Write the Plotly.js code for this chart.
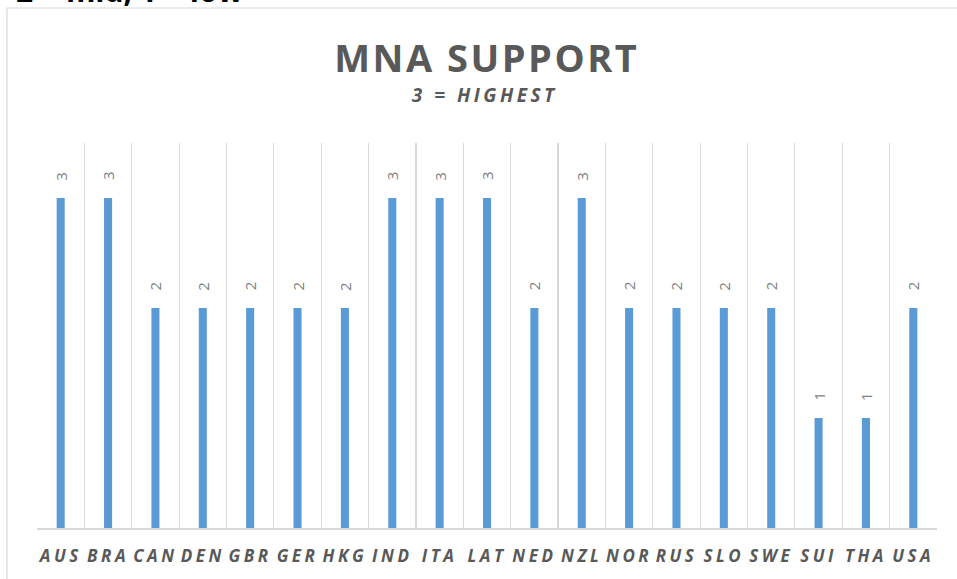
<!DOCTYPE html>
<html>
<head>
<meta charset="utf-8">
<script src="https://cdn.plot.ly/plotly-3.0.1.min.js"></script>
<style>
  html, body { margin: 0; padding: 0; background: #fff; }
  #chart { width: 957px; height: 579px; }
  .xtick text { letter-spacing: 3.5px; }
  .annotation[data-index="0"] text { letter-spacing: 2.5px; }
  .annotation[data-index="1"] text { letter-spacing: 3.5px; }
</style>
</head>
<body>
<div id="chart"></div>
<script>
const countries = ["AUS","BRA","CAN","DEN","GBR","GER","HKG","IND","ITA","LAT","NED","NZL","NOR","RUS","SLO","SWE","SUI","THA","USA"];
const support = [3,3,2,2,2,2,2,3,3,3,2,3,2,2,2,2,1,1,2];
const chartTitle = "MNA SUPPORT";
const chartSubtitle = "3 = HIGHEST";
const topNote = "2 = mid, 1 = low";

const W = 957, H = 579;
const L = 37, R = 20, T = 143, B = 51;
const pw = W - L - R, ph = H - T - B;
const px = x => (x - L) / pw;
const py = y => (H - B - y) / ph;

const labelAnns = countries.map((c, i) => ({
  x: c, y: support[i], xref: 'x', yref: 'y',
  text: String(support[i]), showarrow: false, textangle: -90,
  yshift: 22, font: {family: 'Open Sans, sans-serif', size: 15, color: '#7f7f7f'}
}));

const data = [{
  type: 'bar', x: countries, y: support,
  marker: {color: '#5b9bd5'}, width: 0.17,
  hoverinfo: 'x+y'
}];

const layout = {
  width: W, height: H,
  margin: {l: L, r: R, t: T, b: B, pad: 0},
  paper_bgcolor: '#ffffff', plot_bgcolor: '#ffffff',
  showlegend: false,
  xaxis: {
    type: 'category', tickson: 'boundaries', showgrid: true,
    gridcolor: '#d9d9d9', gridwidth: 1.2, ticks: '', ticklen: 0,
    showline: true, linecolor: '#d9d9d9', linewidth: 2,
    ticklabelstandoff: 12,
    tickfont: {family: 'Open Sans, sans-serif', size: 17, color: '#595959', weight: 'bold', style: 'italic'},
    automargin: false, fixedrange: true, range: [-0.5, 18.5]
  },
  yaxis: {
    range: [0, 3.5], showgrid: false, zeroline: false, showticklabels: false,
    ticks: '', showline: false, fixedrange: true, automargin: false
  },
  shapes: [
    {type: 'rect', xref: 'paper', yref: 'paper', x0: px(7), x1: px(965), y0: py(590), y1: py(8),
     line: {color: '#d9d9d9', width: 1.2}, fillcolor: 'rgba(0,0,0,0)', layer: 'below'}
  ],
  annotations: [
    {xref: 'paper', yref: 'paper', x: px(487), y: py(57), xanchor: 'center', yanchor: 'middle',
     text: chartTitle, showarrow: false,
     font: {family: 'Open Sans, sans-serif', size: 38, color: '#595959', weight: 'bold'}},
    {xref: 'paper', yref: 'paper', x: px(485), y: py(95), xanchor: 'center', yanchor: 'middle',
     text: chartSubtitle, showarrow: false,
     font: {family: 'Open Sans, sans-serif', size: 19, color: '#595959', weight: 'bold', style: 'italic'}},
    {xref: 'paper', yref: 'paper', x: px(14), y: py(13), xanchor: 'left', yanchor: 'bottom',
     text: topNote, showarrow: false,
     font: {family: 'Open Sans, sans-serif', size: 30, color: '#000000', weight: 'bold'}}
  ].concat(labelAnns)
};

Plotly.newPlot('chart', data, layout, {displayModeBar: false, staticPlot: true});
</script>
</body>
</html>
